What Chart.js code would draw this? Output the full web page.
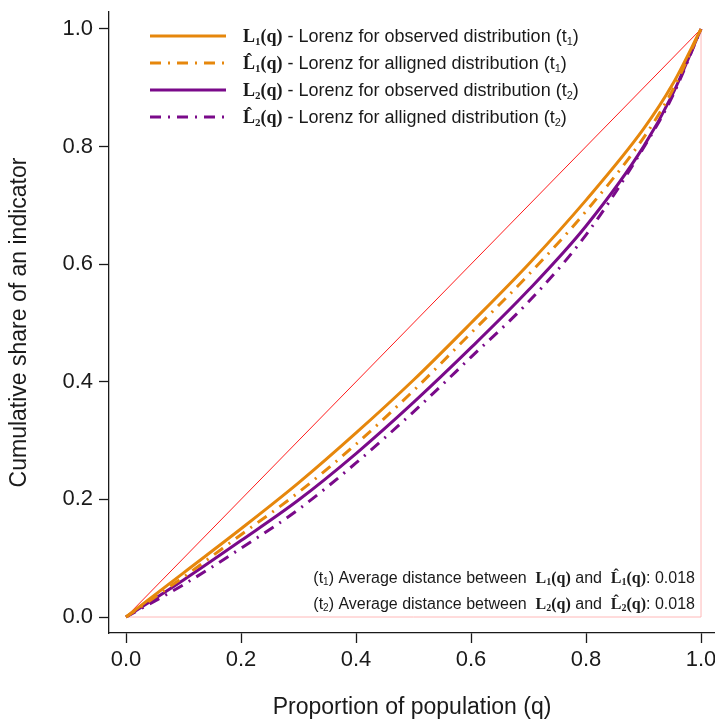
<!DOCTYPE html>
<html>
<head>
<meta charset="utf-8">
<script src="https://cdn.jsdelivr.net/npm/chart.js@4"></script>
<style>
  html, body { margin: 0; padding: 0; background: #fff; }
  #wrap { width: 715px; height: 721px; }
</style>
</head>
<body>
<div id="wrap"><canvas id="chart"></canvas></div>
<script>
// population share q and the four Lorenz curves
const q = [0, 0.1, 0.2, 0.3, 0.4, 0.5, 0.6, 0.7, 0.8, 0.9, 0.95, 1];
const L1 = [0, 0.075, 0.150, 0.228, 0.313, 0.403, 0.500, 0.600, 0.709, 0.830, 0.905, 1];
const L1hat = [0, 0.068, 0.140, 0.212, 0.294, 0.385, 0.483, 0.582, 0.690, 0.815, 0.895, 1];
const L2 = [0, 0.063, 0.130, 0.199, 0.278, 0.365, 0.458, 0.556, 0.665, 0.800, 0.888, 1];
const L2hat = [0, 0.055, 0.117, 0.183, 0.262, 0.349, 0.442, 0.536, 0.650, 0.798, 0.885, 1];

// reference lines: equality diagonal and perfect inequality
const equalityX = [0, 1];
const equalityY = [0, 1];
const inequalityX = [0, 1, 1];
const inequalityY = [0, 0, 1];

const xTicks = [0, 0.2, 0.4, 0.6, 0.8, 1.0];
const yTicks = [0, 0.2, 0.4, 0.6, 0.8, 1.0];

const avgDist1 = '0.018';
const avgDist2 = '0.018';

const ORANGE = '#e6870c';
const PURPLE = '#7a0a8a';
const DOTDASH = [11, 7, 2, 7];
const SANS = "'Liberation Sans', Arial, sans-serif";
const SERIF = "'Liberation Serif', 'Times New Roman', serif";
const INK = '#1a1a1a';

function pts(xs, ys) {
  return xs.map((x, i) => ({ x, y: ys[i] }));
}

function curve(label, ys, color, dash, order) {
  return {
    label,
    data: pts(q, ys),
    borderColor: color,
    backgroundColor: color,
    borderWidth: 3,
    borderDash: dash,
    pointRadius: 0,
    cubicInterpolationMode: 'monotone',
    showLine: true,
    order,
  };
}

// rich text: runs of {t, serif, bold, sub, hat}
function runFont(r, size) {
  const s = r.sub ? Math.round(size * 0.62) : size;
  return `${r.bold ? 'bold ' : ''}${s}px ${r.serif ? SERIF : SANS}`;
}

function runsWidth(ctx, runs, size) {
  let w = 0;
  runs.forEach((r) => { ctx.font = runFont(r, size); w += ctx.measureText(r.t).width; });
  return w;
}

function drawRuns(ctx, runs, x, yMid, size) {
  const base = yMid + size * 0.36;
  ctx.textAlign = 'left';
  ctx.textBaseline = 'alphabetic';
  runs.forEach((r) => {
    ctx.font = runFont(r, size);
    const w = ctx.measureText(r.t).width;
    ctx.fillText(r.t, x, r.sub ? base + size * 0.12 : base);
    if (r.hat) {
      ctx.textAlign = 'center';
      ctx.fillText('\u02C6', x + w / 2, base - size * 0.2);
      ctx.textAlign = 'left';
    }
    x += w;
  });
  return x;
}

function lRuns(i, hat) {
  return [
    { t: 'L', serif: true, bold: true, hat },
    { t: String(i), serif: true, bold: true, sub: true },
    { t: '(q)', serif: true, bold: true },
  ];
}

const legendRows = [
  { ds: 0, runs: [...lRuns(1, false), { t: ' - Lorenz for observed distribution (t' }, { t: '1', sub: true }, { t: ')' }] },
  { ds: 1, runs: [...lRuns(1, true), { t: ' - Lorenz for alligned distribution (t' }, { t: '1', sub: true }, { t: ')' }] },
  { ds: 2, runs: [...lRuns(2, false), { t: ' - Lorenz for observed distribution (t' }, { t: '2', sub: true }, { t: ')' }] },
  { ds: 3, runs: [...lRuns(2, true), { t: ' - Lorenz for alligned distribution (t' }, { t: '2', sub: true }, { t: ')' }] },
];

const noteRows = [
  [{ t: '(t' }, { t: '1', sub: true }, { t: ') Average distance between  ' }, ...lRuns(1, false), { t: ' and  ' }, ...lRuns(1, true), { t: ': ' + avgDist1 }],
  [{ t: '(t' }, { t: '2', sub: true }, { t: ') Average distance between  ' }, ...lRuns(2, false), { t: ' and  ' }, ...lRuns(2, true), { t: ': ' + avgDist2 }],
];

const annotations = {
  id: 'annotations',
  afterDatasetsDraw(chart) {
    const ctx = chart.ctx;
    ctx.save();
    // legend
    legendRows.forEach((row, i) => {
      const y = 36 + i * 27;
      const ds = chart.data.datasets[row.ds];
      ctx.beginPath();
      ctx.setLineDash(ds.borderDash || []);
      ctx.lineWidth = 3;
      ctx.strokeStyle = ds.borderColor;
      ctx.moveTo(150, y);
      ctx.lineTo(226, y);
      ctx.stroke();
      ctx.setLineDash([]);
      ctx.fillStyle = INK;
      drawRuns(ctx, row.runs, 243, y, 18);
    });
    // distance notes, right aligned
    ctx.fillStyle = INK;
    noteRows.forEach((runs, i) => {
      const y = 577 + i * 26;
      const w = runsWidth(ctx, runs, 16);
      drawRuns(ctx, runs, 695 - w, y, 16);
    });
    ctx.restore();
  },
};

new Chart(document.getElementById('chart'), {
  type: 'scatter',
  data: {
    datasets: [
      curve('L1', L1, ORANGE, [], 1),
      curve('L1hat', L1hat, ORANGE, DOTDASH, 2),
      curve('L2', L2, PURPLE, [], 3),
      curve('L2hat', L2hat, PURPLE, DOTDASH, 4),
      {
        label: 'equality',
        data: pts(equalityX, equalityY),
        showLine: true,
        borderColor: '#ff1a1a',
        borderWidth: 1,
        pointRadius: 0,
        order: 5,
      },
      {
        label: 'inequality',
        data: pts(inequalityX, inequalityY),
        showLine: true,
        borderColor: '#ffb8b8',
        borderWidth: 1,
        pointRadius: 0,
        order: 6,
      },
    ],
  },
  options: {
    responsive: true,
    maintainAspectRatio: false,
    animation: false,
    devicePixelRatio: 1,
    layout: { padding: { top: 12, right: 0, bottom: 0, left: 0 } },
    plugins: { legend: { display: false }, tooltip: { enabled: false } },
    scales: {
      x: {
        type: 'linear',
        min: -0.0296,
        max: 1.0243,
        afterBuildTicks: (s) => { s.ticks = xTicks.map((v) => ({ value: v })); },
        afterFit: (s) => { s.height = 88; s.paddingLeft = 0; s.paddingRight = 0; },
        ticks: {
          autoSkip: false,
          maxRotation: 0,
          padding: 4,
          color: INK,
          font: { family: SANS, size: 22 },
          callback: (v) => v.toFixed(1),
        },
        grid: { drawOnChartArea: false, drawTicks: true, tickLength: 10, tickColor: INK, tickWidth: 1.3 },
        border: { display: true, color: INK, width: 1.3 },
        title: {
          display: true,
          text: 'Proportion of population (q)',
          color: INK,
          font: { family: SANS, size: 23 },
          padding: { top: 0, bottom: 0 },
        },
      },
      y: {
        type: 'linear',
        min: -0.0272,
        max: 1.0289,
        afterBuildTicks: (s) => { s.ticks = yTicks.map((v) => ({ value: v })); },
        afterFit: (s) => { s.width = 109; s.paddingTop = 0; s.paddingBottom = 0; },
        ticks: {
          padding: 6,
          color: INK,
          font: { family: SANS, size: 22 },
          callback: (v) => v.toFixed(1),
        },
        grid: { drawOnChartArea: false, drawTicks: true, tickLength: 10, tickColor: INK, tickWidth: 1.3 },
        border: { display: true, color: INK, width: 1.3 },
        title: {
          display: true,
          text: 'Cumulative share of an indicator',
          color: INK,
          font: { family: SANS, size: 23 },
          padding: { top: 6, bottom: 0 },
        },
      },
    },
  },
  plugins: [annotations],
});
</script>
</body>
</html>
